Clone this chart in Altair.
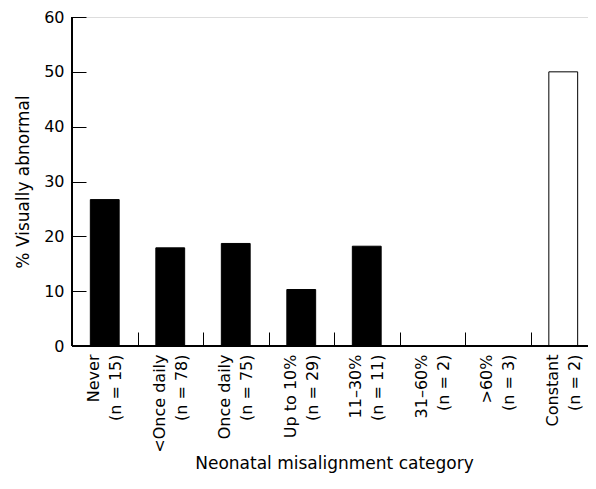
import altair as alt
import pandas as pd

categories = ["Never", "<Once daily", "Once daily", "Up to 10%", "11–30%", "31–60%", ">60%", "Constant"]
counts = [15, 78, 75, 29, 11, 2, 3, 2]
pct_abnormal = [26.7, 17.9, 18.7, 10.3, 18.2, 0.0, 0.0, 50.0]
y_ticks = [0, 10, 20, 30, 40, 50, 60]

labels = [f"{c}|(n = {n})" for c, n in zip(categories, counts)]
df = pd.DataFrame({"label": labels, "category": categories, "value": pct_abnormal})

W, H = 516, 329
X_RANGE = 524
FONT = "DejaVu Sans"

x = alt.X(
    "label:N",
    sort=labels,
    scale=alt.Scale(range=[0, X_RANGE], paddingInner=0, paddingOuter=0),
    axis=alt.Axis(
        title="Neonatal misalignment category",
        titleFont=FONT, titleFontSize=17, titleFontWeight="normal", titleColor="black",
        titlePadding=3,
        labelExpr="split(datum.label, '|')",
        labelAngle=270, labelAlign="right", labelBaseline="middle",
        labelFont=FONT, labelFontSize=16, labelLineHeight=22, labelColor="black",
        labelPadding=8, labelOffset=-11,
        tickBand="extent", tickSize=14, tickColor="black", tickWidth=1,
        offset=-14, domain=False, grid=False,
    ),
)

y = alt.Y(
    "value:Q",
    scale=alt.Scale(domain=[0, 60]),
    axis=alt.Axis(
        title="% Visually abnormal",
        titleFont=FONT, titleFontSize=17, titleFontWeight="normal", titleColor="black",
        titlePadding=11,
        values=y_ticks,
        labelFont=FONT, labelFontSize=16, labelColor="black", labelPadding=8,
        tickSize=14, tickColor="black", tickWidth=1,
        offset=-14, domain=False, grid=False,
    ),
)

bars = alt.Chart(df).mark_bar(
    width=alt.RelativeBandSize(0.44), stroke="black", strokeWidth=1
).encode(
    x=x,
    y=y,
    fill=alt.condition(alt.datum.category == "Constant", alt.value("white"), alt.value("black")),
)

y_line = alt.Chart(df).mark_rule(color="black", strokeWidth=1).encode(
    x=alt.value(0), y=alt.value(0), y2=alt.value(H)
)
x_line = alt.Chart(df).mark_rule(color="black", strokeWidth=1).encode(
    y=alt.value(H), x=alt.value(0), x2=alt.value(W)
)

chart = alt.layer(bars, y_line, x_line).properties(
    width=W, height=H,
    autosize=alt.AutoSizeParams(type="none"),
    padding={"left": 64, "top": 9, "right": 0, "bottom": 130},
).configure_view(stroke=None).configure(background="white")

chart.save("out.html", embed_options={"renderer": "svg", "actions": False})
